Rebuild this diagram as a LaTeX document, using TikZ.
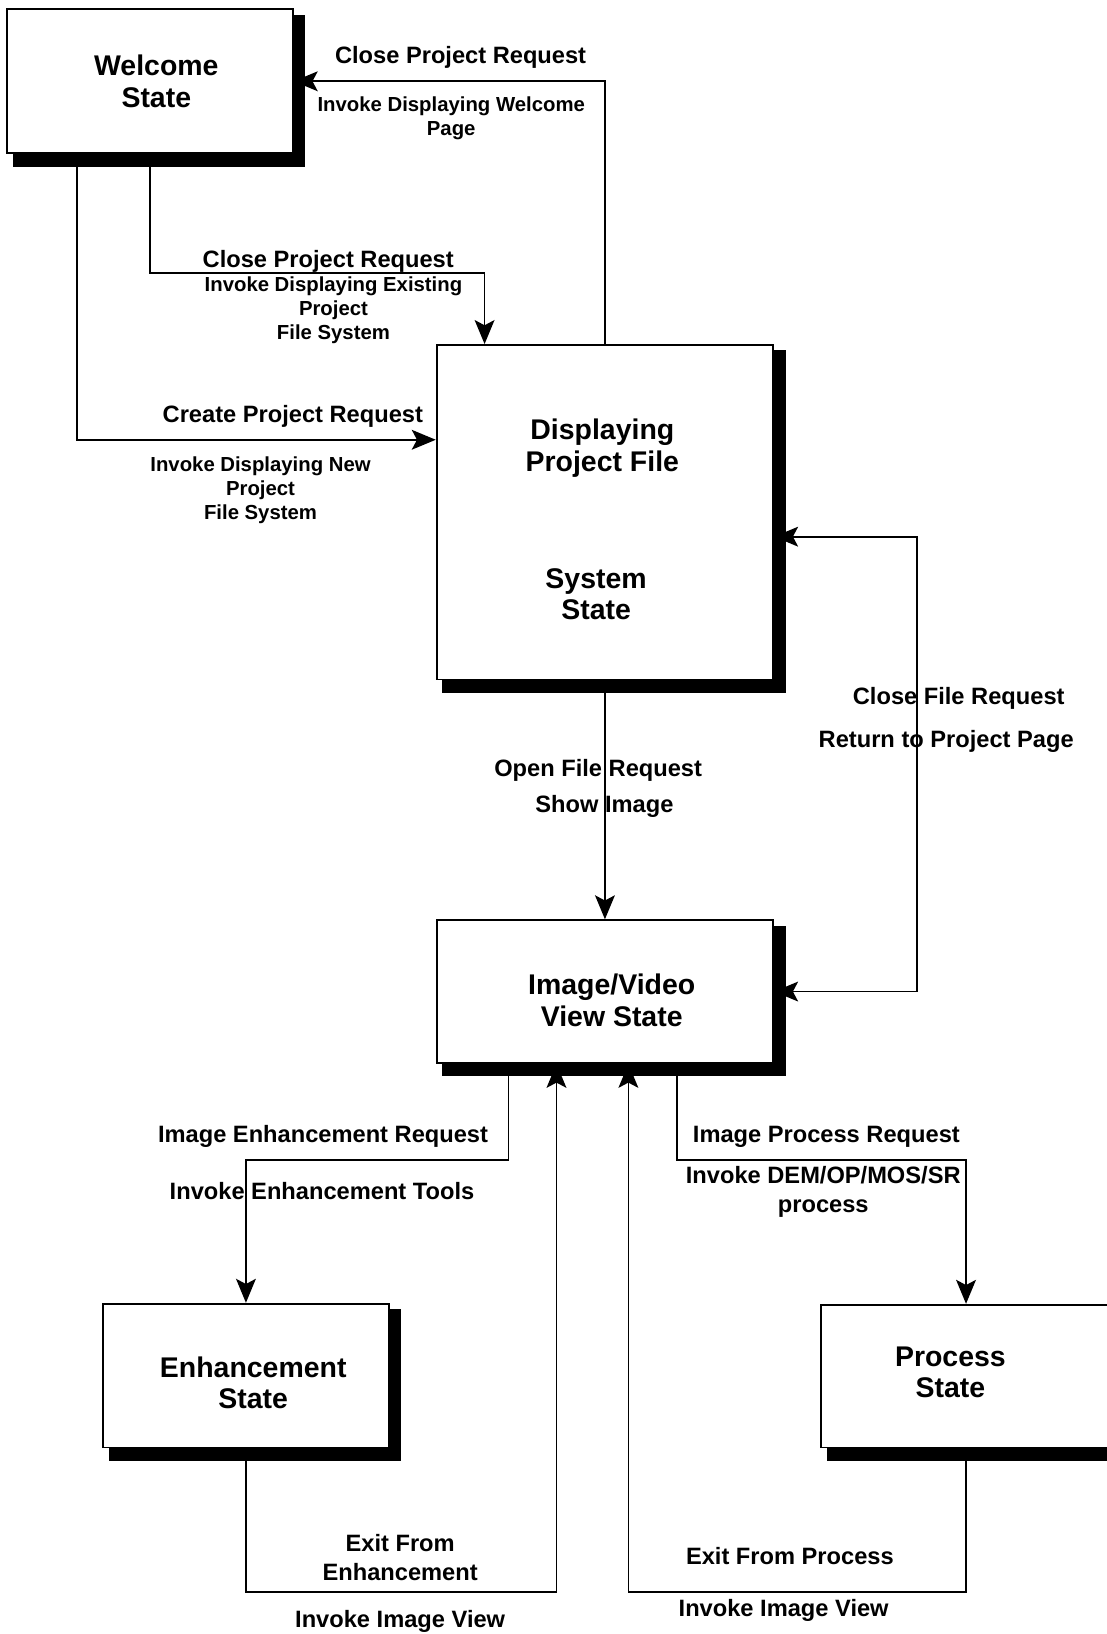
\documentclass[tikz,border=0pt]{standalone}
\usepackage{fontspec}
\setmainfont{Liberation Sans}
\usetikzlibrary{arrows.meta,backgrounds}

\begin{document}
\begin{tikzpicture}[x=1pt,y=-1pt,
  statebox/.style={draw,fill=white,line width=1.7pt,inner sep=0pt},
  title/.style={font=\fontsize{27.3}{30}\selectfont\bfseries,align=center,inner sep=0pt},
  lbl/.style={font=\fontsize{22.7}{28}\selectfont\bfseries,align=center,inner sep=0pt},
  small/.style={font=\fontsize{19.5}{23}\selectfont\bfseries,align=center,inner sep=0pt},
  tip/.tip={Stealth[length=23pt,width=19pt,inset=5pt]},
  flow/.style={line width=1.7pt,-tip},
  twoway/.style={line width=1.7pt,tip-tip}
]
\useasboundingbox (0,0) rectangle (1062,1568);

% state boxes
\node[statebox,minimum width=274pt,minimum height=138pt] (welcome) at (144,78) {};
\node[statebox,minimum width=323pt,minimum height=321pt] (disp) at (580.5,491.5) {};
\node[statebox,minimum width=323pt,minimum height=137pt] (img) at (580.5,951.5) {};
\node[statebox,minimum width=274pt,minimum height=138pt] (enh) at (236,1320) {};
\node[statebox,minimum width=278pt,minimum height=137pt] (proc) at (927,1320.5) {};

% solid drop shadows behind the boxes
\begin{scope}[on background layer]
  \fill[white] (0,0) rectangle (1062,1568);
  \foreach \b in {welcome,disp,img,enh,proc}
    \fill ([shift={(6,6)}]\b.north west) rectangle ([shift={(11,12)}]\b.south east);
\end{scope}

% box titles
\node[title] (welcomeT) at (150,78) {Welcome\\State};
\node[title] (dispT) at (578,430) {Displaying\\Project File};
\node[title] (dispS) at (572,570) {System\\State};
\node[title] (imgT) at (587,960) {Image/Video\\View State};
\node[title] (enhT) at (243,1327) {Enhancement\\State};
\node[title] (procT) at (912,1317) {Process\\State};

% helper corners of the return path
\coordinate (cfTop) at (880,515);
\coordinate (cfBot) at (880,951.5);

% transitions
\draw[flow] (disp.north) |- (welcome.east);
\draw[flow] (welcome.south) -- (144,262) -| (disp.north -| 465,0);
\draw[flow] (welcome.south -| 74,0) |- (disp.west |- 0,422);
\draw[flow] (disp.south) -- (img.north);
\draw[twoway] (disp.east |- cfTop) -- (cfTop) -- (cfBot) -- (img.east);
\draw[flow] (img.south -| 488,0) -- (488,1113) -| (enh.north);
\draw[flow] (enh.south) |- (534,1528) -- (img.south -| 534,0);
\draw[flow] (proc.south) |- (603,1528) -- (img.south -| 603,0);
\draw[flow] (img.south -| 650,0) -- (650,1113) -| (proc.north);

% transition labels
\node[lbl] (l1) at (442,55.5) {Close Project Request};
\node[small] (l2) at (433,113.5) {Invoke Displaying Welcome\\Page};
\node[lbl] (l3) at (315,250.5) {Close Project Request};
\node[small] (l4) at (320,298) {Invoke Displaying Existing\\Project\\File System};
\node[lbl] (l5) at (281,399.5) {Create Project Request};
\node[small] (l6) at (250,470.5) {Invoke Displaying New\\Project\\File System};
\node[lbl] (l7) at (574,739.5) {Open File Request};
\node[lbl] (l8) at (580,773.5) {Show Image};
\node[lbl] (l9) at (920,670.5) {Close File Request};
\node[lbl] (l10) at (908,711.5) {Return to Project Page};
\node[lbl] (l11) at (310,1090.5) {Image Enhancement Request};
\node[lbl] (l12) at (309,1142.5) {Invoke Enhancement Tools};
\node[lbl] (l13) at (793,1090.5) {Image Process Request};
\node[lbl] (l14) at (790,1143.5) {Invoke DEM/OP/MOS/SR\\process};
\node[lbl] (l15) at (384,1494.5) {Exit From\\Enhancement};
\node[lbl] (l16) at (384,1556) {Invoke Image View};
\node[lbl] (l17) at (758,1493.5) {Exit From Process};
\node[lbl] (l18) at (752,1545.5) {Invoke Image View};
\end{tikzpicture}
\end{document}
